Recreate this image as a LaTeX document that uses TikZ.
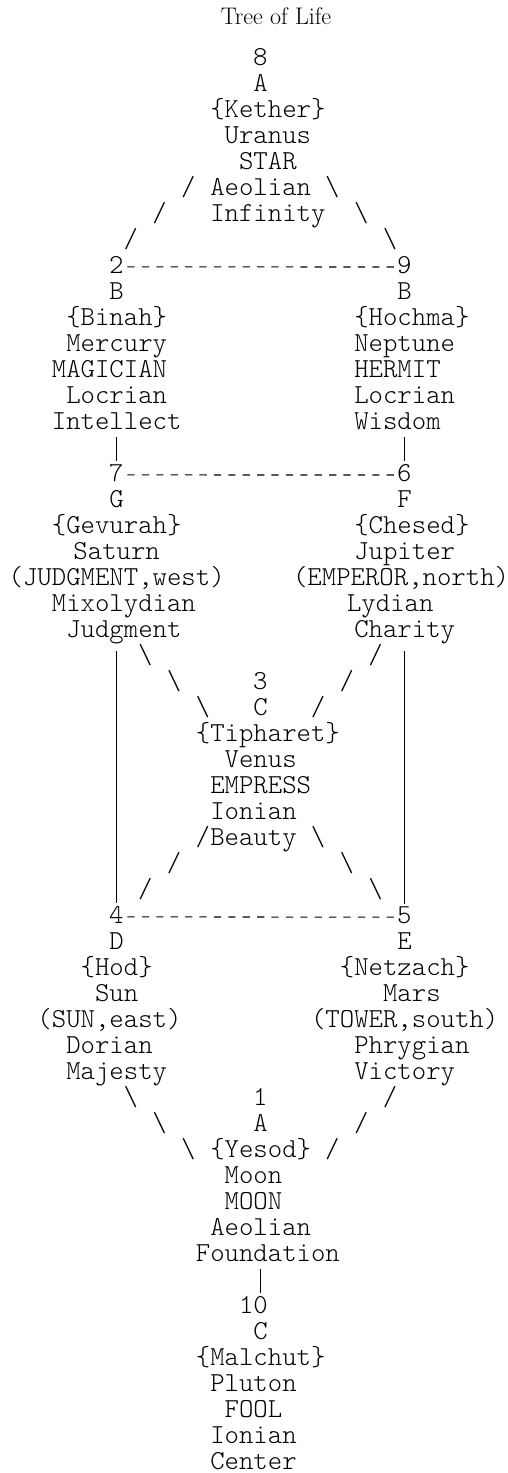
\documentclass[tikz,border=0pt]{standalone}
\usepackage{fontspec}
\setmonofont{Latin Modern Mono Light}
\usetikzlibrary{positioning, calc}

% grid of the character art (px)
\newcommand\colx[1]{217.2+14.4*(#1)}
\newcommand\coll[1]{210+14.4*(#1)}
\newcommand\rowy[1]{65.4+26*((#1)-1)}
\newcommand\pad[1]{\hspace*{#1\fontdimen2\font}}
\newcommand\artfont{\fontsize{20.57pt}{19.5pt}\selectfont\ttfamily\lineskiplimit=-100pt\relax}
\newcommand\fw{/}
\newcommand\bk{\textbackslash}

\tikzset{
  mono/.style={font=\artfont, inner sep=0pt},
  num/.style={mono, anchor=base},
  block/.style={mono, anchor=base west, text width=16em, align=left},
  glyph/.style={mono, anchor=base},
  hyph/.style={line width=0.8pt, dash pattern=on 5.4pt off 5.4pt, dash phase=8.1pt},
  bar/.style={line width=0.8pt, shorten <=5pt, shorten >=2pt},
  shortbar/.style={bar, shorten <=5.7pt},
}

\begin{document}
\begin{tikzpicture}[x=0.75pt, y=-0.75pt]
\useasboundingbox (0,0) rectangle (507,1473);

\node[font=\fontsize{18pt}{20pt}\selectfont, anchor=base] (title) at (276,25) {Tree of Life};

% Kether
\node[num] (n8) at ({\colx{3}},{\rowy{1}}) {8};
\node[block] (kether) at ({\coll{0}},{\rowy{2}})
  {\pad3A\\\{Kether\}\\\pad1Uranus\\\pad2STAR\\Aeolian\\Infinity};

% Binah and Hochma
\node[num] (n2) at ({\colx{-7}},{\rowy{9}}) {2};
\node[num] (n9) at ({\colx{13}},{\rowy{9}}) {9};
\node[block] (binah) at ({\coll{-11}},{\rowy{10}})
  {\pad4B\\\pad1\{Binah\}\\\pad1Mercury\\MAGICIAN\\\pad1Locrian\\Intellect};
\node[block] (hochma) at ({\coll{10}},{\rowy{10}})
  {\pad3B\\\{Hochma\}\\Neptune\\HERMIT\\Locrian\\Wisdom};

% Gevurah and Chesed
\node[num] (n7) at ({\colx{-7}},{\rowy{17}}) {7};
\node[num] (n6) at ({\colx{13}},{\rowy{17}}) {6};
\node[block] (gevurah) at ({\coll{-14}},{\rowy{18}})
  {\pad7G\\\pad3\{Gevurah\}\\\pad{4.5}Saturn\\(JUDGMENT,west)\\\pad3Mixolydian\\\pad4Judgment};
\node[block] (chesed) at ({\coll{6}},{\rowy{18}})
  {\pad7F\\\pad4\{Chesed\}\\\pad4Jupiter\\\pad{-0.25}(EMPEROR,north)\\\pad{3.5}Lydian\\\pad4Charity};

% Tipharet
\node[num] (n3) at ({\colx{3}},{\rowy{25}}) {3};
\node[block] (tipharet) at ({\coll{-1}},{\rowy{26}})
  {\pad4C\\\{Tipharet\}\\\pad2Venus\\\pad1EMPRESS\\\pad1Ionian\\\pad1Beauty};

% Hod and Netzach
\node[num] (n4) at ({\colx{-7}},{\rowy{34}}) {4};
\node[num] (n5) at ({\colx{13}},{\rowy{34}}) {5};
\node[block] (hod) at ({\coll{-12}},{\rowy{35}})
  {\pad5D\\\pad3\{Hod\}\\\pad4Sun\\(SUN,east)\\\pad2Dorian\\\pad2Majesty};
\node[block] (netzach) at ({\coll{7}},{\rowy{35}})
  {\pad6E\\\pad2\{Netzach\}\\\pad5Mars\\(TOWER,south)\\\pad3Phrygian\\\pad3Victory};

% Yesod
\node[num] (n1) at ({\colx{3}},{\rowy{41}}) {1};
\node[block] (yesod) at ({\coll{-1}},{\rowy{42}})
  {\pad4A\\\pad1\{Yesod\}\\\pad2Moon\\\pad2MOON\\\pad1Aeolian\\Foundation};

% Malchut
\node[mono, anchor=base west] (n10) at ({\coll{2}},{\rowy{49}}) {10};
\node[block] (malchut) at ({\coll{-1}},{\rowy{50}})
  {\pad4C\\\{Malchut\}\\\pad1Pluton\\\pad2FOOL\\\pad1Ionian\\\pad1Center};

% slanted paths, one glyph per row
\foreach \nm/\gl/\r/\c/\dc in {kb/\fw/6/-2/-2, kh/\bk/6/8/2,
    gt/\bk/24/-5/2, ct/\fw/24/11/-2, th/\fw/31/-1/-2, tn/\bk/31/7/2,
    hy/\bk/41/-6/2, ny/\fw/41/12/-2} {
  \foreach \i in {0,1,2} {
    \node[glyph] (\nm\i) at ({\colx{(\c)+(\dc)*\i}},{\rowy{\r+\i}}) {\gl};
  }
}

% dashed rungs
\draw[hyph] ([yshift=-1.5pt]n2.east) -- ([yshift=-1.5pt]n9.west);
\draw[hyph] ([yshift=-1.5pt]n7.east) -- ([yshift=-1.5pt]n6.west);
\draw[hyph] ([yshift=-1.5pt]n4.east) -- ([yshift=-1.5pt]n5.west);

% vertical paths
\draw[shortbar] (binah.south -| n7) -- (n7.north);
\draw[shortbar] (hochma.south -| n6) -- (n6.north);
\draw[bar] (gevurah.south -| n4) -- (n4.north);
\draw[bar] (chesed.south -| n5) -- (n5.north);
\draw[shortbar] (yesod.south -| n1) -- (n10.north -| n1);
\end{tikzpicture}
\end{document}
